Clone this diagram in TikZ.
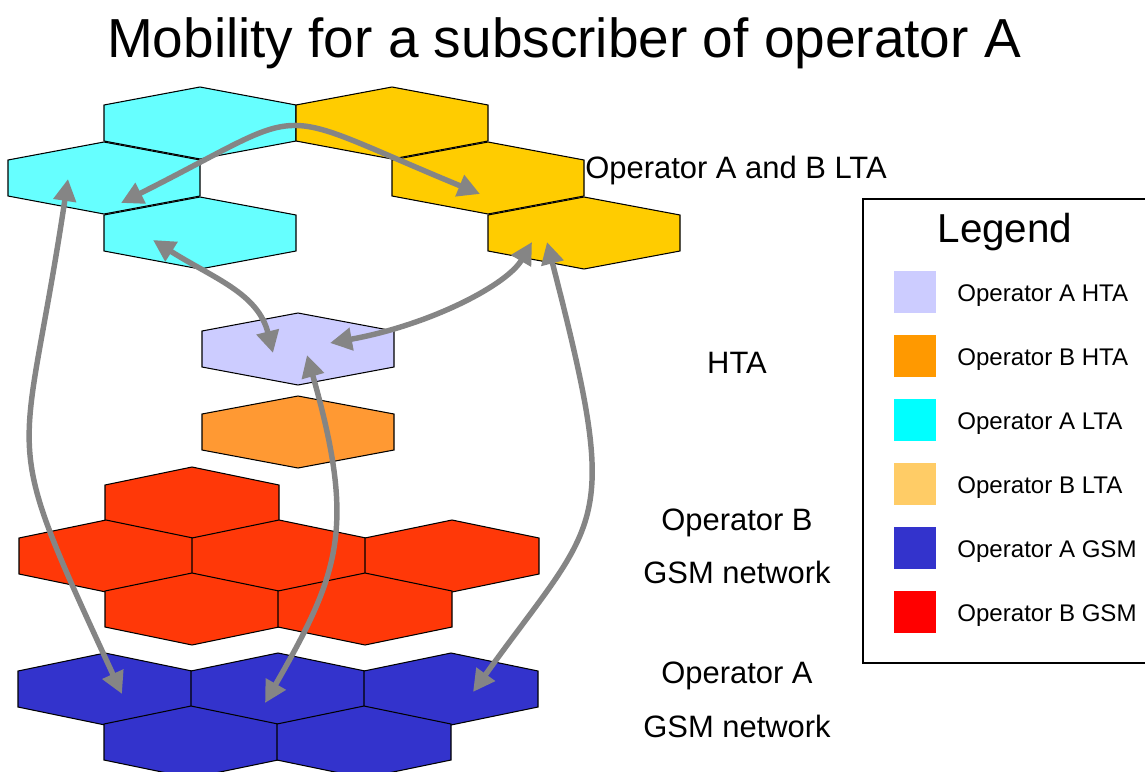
\documentclass[tikz,border=0pt]{standalone}
\usepackage{fontspec}
\setmainfont{Liberation Sans}
\usetikzlibrary{arrows.meta}

\definecolor{cellA}{HTML}{66FFFF}
\definecolor{cellB}{HTML}{FFCC00}
\definecolor{htaA}{HTML}{CCCCFF}
\definecolor{htaB}{HTML}{FF9933}
\definecolor{gsmA}{HTML}{3333CC}
\definecolor{gsmB}{HTML}{FF3808}
\definecolor{keyhtaB}{HTML}{FF9900}
\definecolor{keyltaA}{HTML}{00FFFF}
\definecolor{keyltaB}{HTML}{FFCC66}
\definecolor{keygsmB}{HTML}{FF0000}
\definecolor{movegray}{HTML}{858585}

% one cell, centred on the origin, half width #1
\newcommand{\hexcell}[1]{(-#1,-18) -- (0,-36) -- (#1,-18) -- (#1,18) -- (0,36) -- (-#1,18) -- cycle}

\begin{document}
\begin{tikzpicture}[x=0.02cm, y=-0.02cm,
    cell/.style={draw=black, line width=0.6pt},
    moveline/.style={draw=movegray, line width=3.1pt,
      {Triangle[length=12.5pt,width=12.5pt]}-{Triangle[length=12.5pt,width=12.5pt]}},
    layertext/.style={anchor=base, font=\fontsize{17.6}{21}\selectfont},
    keytext/.style={anchor=base west, inner sep=0pt, font=\fontsize{13.7}{16}\selectfont}]
        \useasboundingbox (0,0) rectangle (1145,771);

        \node[anchor=base, font=\fontsize{31.3}{36}\selectfont] (title) at (564,57) {Mobility for a subscriber of operator A};

        % LTA cells
        \foreach \cx/\cy in {200/123, 104/178, 200/233}
          \draw[cell, fill=cellA, shift={(\cx,\cy)}] \hexcell{96};
        \foreach \cx/\cy in {392/123, 488/178, 584/233}
          \draw[cell, fill=cellB, shift={(\cx,\cy)}] \hexcell{96};

        % HTA cells
        \draw[cell, fill=htaA, shift={(298,349)}] \hexcell{96};
        \draw[cell, fill=htaB, shift={(298,432)}] \hexcell{96};

        % GSM networks
        \foreach \cx/\cy in {192/503, 106/556, 279/556, 452/556, 192/609, 365/609}
          \draw[cell, fill=gsmB, shift={(\cx,\cy)}] \hexcell{87};
        \foreach \cx/\cy in {105/689, 278/689, 451/689, 191/742, 364/742}
          \draw[cell, fill=gsmA, shift={(\cx,\cy)}] \hexcell{87};

        % arrow ends
        \coordinate (ltaAmid) at (121,203);
        \coordinate (ltaBmid) at (480,194);
        \coordinate (ltaAlow) at (153,240);
        \coordinate (ltaAleft) at (68,179);
        \coordinate (ltaBlowL) at (532,242);
        \coordinate (ltaBlowR) at (547,242);
        \coordinate (htaAtop) at (273,353);
        \coordinate (htaAright) at (330,343);
        \coordinate (htaAlow) at (307,355);
        \coordinate (gsmAleft) at (122,694);
        \coordinate (gsmAmid) at (265,703);
        \coordinate (gsmAright) at (473,692);

        \draw[moveline] (ltaAmid) .. controls (318,104) and (262,104) .. (ltaBmid);
        \draw[moveline] (ltaAlow) .. controls (213,278) and (258,293) .. (htaAtop);
        \draw[moveline] (ltaBlowL) .. controls (507,285) and (430,325) .. (htaAright);
        \draw[moveline] (ltaAleft) .. controls (23,479) and (-4,421) .. (gsmAleft);
        \draw[moveline] (htaAlow) .. controls (356,528) and (340,572) .. (gsmAmid);
        \draw[moveline] (ltaBlowR) .. controls (622,533) and (601,514) .. (gsmAright);

        % layer names
        \node[layertext] (ltaname) at (736,178) {Operator A and B LTA};
        \node[layertext] (htaname) at (737,373) {HTA};
        \node[layertext] (gsmBname) at (737,530) {Operator B};
        \node[layertext] (gsmBnet) at (737,583) {GSM network};
        \node[layertext] (gsmAname) at (737,683) {Operator A};
        \node[layertext] (gsmAnet) at (737,737) {GSM network};

        % legend
        \draw[line width=0.6pt] (863,199) rectangle (1160,663);
        \node[anchor=base, font=\fontsize{23}{27}\selectfont] (legendtitle) at (1005,242) {Legend};
        \foreach \col/\txt [count=\i] in {htaA/Operator A HTA, keyhtaB/Operator B HTA,
            keyltaA/Operator A LTA, keyltaB/Operator B LTA, gsmA/Operator A GSM, keygsmB/Operator B GSM}
        {
          \fill[\col] (894,{271+64*(\i-1)}) rectangle ++(42,42);
          \node[keytext] (key\i) at (957,{301+64*(\i-1)}) {\txt};
        }
\end{tikzpicture}
\end{document}
